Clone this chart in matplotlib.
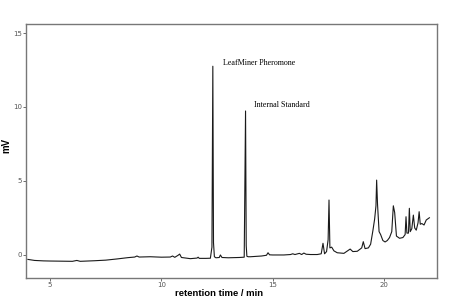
import matplotlib
matplotlib.use("Agg")
import matplotlib.pyplot as plt

# chromatogram trace: (time in min, signal in mV)
trace_points = [
    (4.0, -0.33), (4.3, -0.40), (4.7, -0.43), (5.0, -0.44), (5.5, -0.45),
    (6.0, -0.46), (6.2, -0.40), (6.35, -0.46), (7.0, -0.42), (7.5, -0.38),
    (8.0, -0.30), (8.5, -0.21), (8.8, -0.17), (8.9, -0.10), (9.0, -0.17),
    (9.5, -0.15), (10.0, -0.18), (10.4, -0.17), (10.5, -0.10), (10.6, -0.19),
    (10.75, -0.05), (10.82, 0.03), (10.9, -0.20), (11.3, -0.28), (11.6, -0.24),
    (11.65, -0.18), (11.7, -0.26), (12.0, -0.26), (12.2, -0.25), (12.27, 0.5),
    (12.31, 12.75), (12.34, 0.8), (12.38, -0.15), (12.45, -0.22), (12.6, -0.20),
    (12.65, -0.03), (12.72, -0.20), (13.0, -0.22), (13.5, -0.20), (13.72, -0.18),
    (13.78, 9.72), (13.81, 0.6), (13.84, -0.12), (13.9, -0.15), (14.0, -0.15),
    (14.5, -0.10), (14.72, -0.05), (14.79, 0.12), (14.86, -0.02), (15.0, -0.03),
    (15.5, -0.03), (15.8, 0.0), (15.9, 0.05), (16.0, 0.0), (16.2, 0.08),
    (16.3, 0.0), (16.4, 0.10), (16.5, 0.02), (16.7, 0.0), (17.0, 0.0),
    (17.18, 0.05), (17.26, 0.76), (17.33, 0.05), (17.42, 0.20), (17.49, 1.0),
    (17.53, 3.69), (17.57, 0.45), (17.65, 0.50), (17.75, 0.25), (17.9, 0.12),
    (18.2, 0.08), (18.48, 0.37), (18.6, 0.20), (18.8, 0.22), (19.0, 0.45),
    (19.07, 0.87), (19.15, 0.40), (19.3, 0.45), (19.4, 0.70), (19.5, 1.60),
    (19.58, 2.40), (19.64, 3.30), (19.67, 5.04), (19.71, 3.40), (19.78, 1.55),
    (19.85, 1.35), (19.95, 0.95), (20.05, 0.85), (20.15, 0.95), (20.25, 1.15),
    (20.35, 1.55), (20.42, 3.30), (20.48, 2.85), (20.56, 1.25), (20.7, 1.10),
    (20.85, 1.15), (20.95, 1.35), (20.99, 2.56), (21.03, 1.45), (21.1, 1.45),
    (21.14, 3.13), (21.18, 1.55), (21.25, 1.75), (21.32, 2.67), (21.38, 1.80),
    (21.45, 1.65), (21.53, 2.15), (21.58, 2.90), (21.63, 2.05), (21.7, 2.10),
    (21.8, 2.00), (21.9, 2.34), (22.04, 2.49),
]
time_min = [p[0] for p in trace_points]
signal_mv = [p[1] for p in trace_points]

y_ticks = [0, 5, 10, 15]
x_ticks = [5, 10, 15, 20]

fig = plt.figure(figsize=(4.5, 3), dpi=100)
ax = fig.add_axes([0.058, 0.0733, 0.913, 0.8467])

ax.plot(time_min, signal_mv, color="#1a1a1a", linewidth=0.8)

ax.text(12.77, 13.0, "LeafMiner Pheromone", family="Liberation Serif",
        fontsize=5.8, va="center", ha="left")
ax.text(14.16, 10.1, "Internal Standard", family="Liberation Serif",
        fontsize=5.8, va="center", ha="left")

ax.set_xlim(3.92, 22.38)
ax.set_ylim(-1.59, 15.61)
ax.set_xticks(x_ticks)
ax.set_yticks(y_ticks)
ax.tick_params(labelsize=5, colors="#555555", length=2, width=0.6, pad=1)

for s in ax.spines.values():
    s.set_color("#777777")
    s.set_linewidth(1.0)

ax.set_xlabel("retention time / min", family="Liberation Sans",
              fontweight="bold", fontsize=6.8)
ax.set_ylabel("mV", family="Liberation Sans", fontweight="bold", fontsize=7)
ax.xaxis.set_label_coords(0.47, -0.042)
ax.yaxis.set_label_coords(-0.035, 0.52)

fig.savefig("out.png", dpi=100)
